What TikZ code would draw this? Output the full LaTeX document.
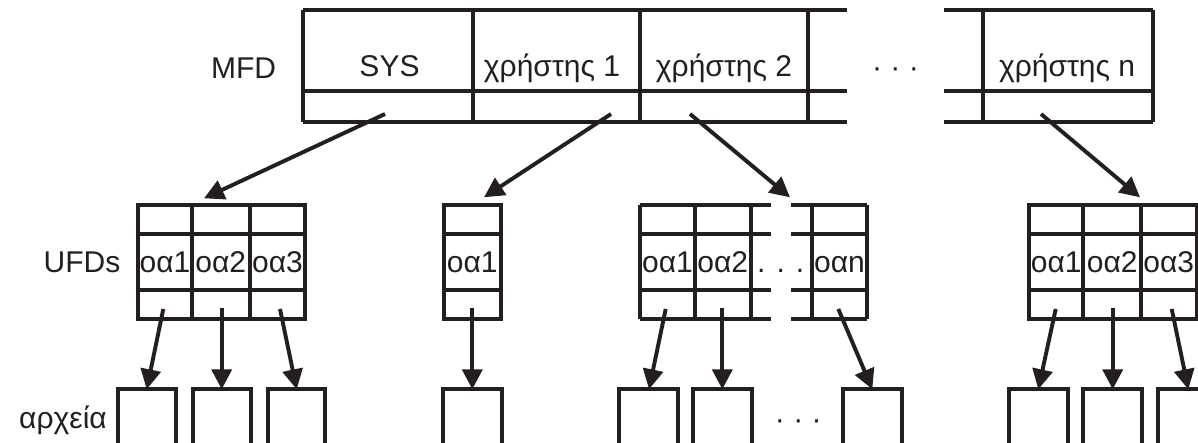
\documentclass[tikz,border=0pt]{standalone}
\usepackage{fontspec}
\setmainfont{Liberation Sans}
\usetikzlibrary{arrows.meta}
\definecolor{ink}{RGB}{35,31,32}
\begin{document}
\begin{tikzpicture}[x=1pt,y=-1pt,
  lbl/.style={font=\fontsize{30}{36}\selectfont, inner sep=0pt, anchor=base, text=ink},
  arr/.style={draw=ink, line width=3.9pt, -{Triangle[length=20pt,width=20pt]}},
  ln/.style={draw=ink, line width=3.9pt}]
\clip (0,0) rectangle (1198,443);
\fill[white] (0,0) rectangle (1198,443);

% ---------------- MFD ----------------
\draw[ln] (302.7,10) -- (846.7,10) (944,10) -- (1153.3,10);
\draw[ln] (302.7,91) -- (846.7,91) (944,91) -- (1153.3,91);
\draw[ln] (302.7,122.3) -- (846.7,122.3) (944,122.3) -- (1153.3,122.3);
\foreach \x in {302.7,473.3,640,808.3,983.3,1153.3}
  \draw[ln] (\x,10) -- (\x,122.3);
\node[lbl] (mfd) at (243.5,79) {MFD};
\node[lbl] (sys) at (389.5,77) {SYS};
\node[lbl] (u1) at (552,77) {χρήστης 1};
\node[lbl] (u2) at (724,77) {χρήστης 2};
\node[lbl] (udots) at (895.5,78) {· · ·};
\node[lbl] (un) at (1067,77) {χρήστης n};

% ---------------- UFDs ----------------
\node[lbl] (ufds) at (82,273) {UFDs};
% UFD 1
\draw[ln] (138.3,205) rectangle (305,319.3);
\draw[ln] (138.3,234) -- (305,234) (138.3,290) -- (305,290);
\draw[ln] (191.7,205) -- (191.7,319.3) (250,205) -- (250,319.3);
\node[lbl] (a11) at (165,272.7) {οα1};
\node[lbl] (a12) at (220.8,272.7) {οα2};
\node[lbl] (a13) at (277.5,272.7) {οα3};
% UFD 2
\draw[ln] (444,205) rectangle (500.7,319.3);
\draw[ln] (444,234) -- (500.7,234) (444,290) -- (500.7,290);
\node[lbl] (a21) at (472.3,272.7) {οα1};
% UFD 3
\foreach \y in {205,234,290,319.3}
  \draw[ln] (640,\y) -- (770.7,\y) (791,\y) -- (866.7,\y);
\foreach \x in {640,695,750.7,812.3,866.7}
  \draw[ln] (\x,205) -- (\x,319.3);
\node[lbl] (a31) at (667.5,272.7) {οα1};
\node[lbl] (a32) at (722.8,272.7) {οα2};
\node[lbl] (a3d) at (780.7,272.7) {. . .};
\node[lbl] (a3n) at (839.5,272.7) {οαn};
% UFD 4
\draw[ln] (1029.3,205) rectangle (1196.7,319.3);
\draw[ln] (1029.3,234) -- (1196.7,234) (1029.3,290) -- (1196.7,290);
\draw[ln] (1083.3,205) -- (1083.3,319.3) (1141,205) -- (1141,319.3);
\node[lbl] (a41) at (1056.3,272.7) {οα1};
\node[lbl] (a42) at (1112.2,272.7) {οα2};
\node[lbl] (a43) at (1168.8,272.7) {οα3};

% ---------------- files ----------------
\node[lbl] (files) at (63,428) {αρχεία};
\foreach \l/\r in {118.3/176,192.7/250.7,267.7/325,443.3/502.3,619.3/678.3,693.3/751.7,843.3/901.7,1009.3/1067.7,1083.3/1142.3,1158.3/1216.7}
  \draw[ln] (\l,460) -- (\l,389.3) -- (\r,389.3) -- (\r,460);
\node[lbl] (fdots) at (798.3,429.3) {· · ·};

% ---------------- arrow end points ----------------
\coordinate (s0) at (385,114);    \coordinate (t0) at (204,198.3);
\coordinate (s1) at (611,114);    \coordinate (t1) at (484,197.3);
\coordinate (s2) at (690,114);    \coordinate (t2) at (790,197.3);
\coordinate (sn) at (1041,114);   \coordinate (tn) at (1140,197.3);

\coordinate (p11) at (163.3,309);  \coordinate (f11) at (146.7,389.3);
\coordinate (p12) at (221.7,307.7);\coordinate (f12) at (221.7,389.3);
\coordinate (p13) at (280,309);    \coordinate (f13) at (296.7,389.3);
\coordinate (p21) at (472.3,307.7);\coordinate (f21) at (472.3,389.3);
\coordinate (p31) at (665.7,309);  \coordinate (f31) at (649,389.3);
\coordinate (p32) at (722.3,307.7);\coordinate (f32) at (722.3,389.3);
\coordinate (p3n) at (838.3,309);  \coordinate (f3n) at (872.3,389.3);
\coordinate (p41) at (1055.7,309); \coordinate (f41) at (1038.3,389.3);
\coordinate (p42) at (1112.7,307.7);\coordinate (f42) at (1112.7,389.3);
\coordinate (p43) at (1171.7,309); \coordinate (f43) at (1188.3,389.3);

\foreach \a/\b in {s0/t0,s1/t1,s2/t2,sn/tn,p11/f11,p12/f12,p13/f13,p21/f21,p31/f31,p32/f32,p3n/f3n,p41/f41,p42/f42,p43/f43}
  \draw[arr] (\a) -- (\b);
\end{tikzpicture}
\end{document}
